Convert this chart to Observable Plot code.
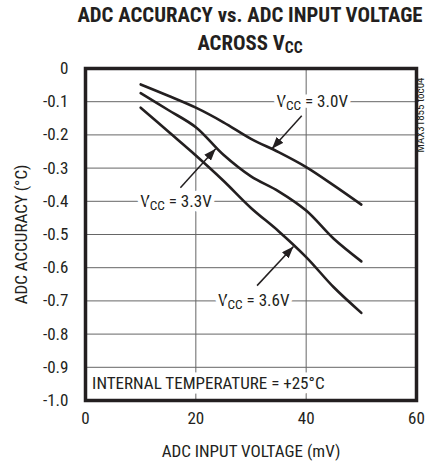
<!DOCTYPE html>
<html>
<head>
<meta charset="utf-8">
<script src="https://cdn.jsdelivr.net/npm/d3@7"></script>
<script src="https://cdn.jsdelivr.net/npm/@observablehq/plot@0.6"></script>
<style>
  html, body { margin: 0; padding: 0; background: #fff; }
  #wrap { width: 432px; height: 462px; position: relative; overflow: hidden; }
  #title {
    margin-left: 68px; width: 364px; height: 58px; box-sizing: border-box;
    padding-top: 1px; text-align: center; white-space: nowrap;
    font-family: Roboto, sans-serif; font-stretch: condensed;
    font-weight: bold; font-size: 20px; line-height: 28px; color: #231f20;
  }
  #title .sub { font-size: 0.75em; position: relative; top: 3px; }
  svg { display: block; }
</style>
</head>
<body>
<div id="wrap">
  <div id="title">ADC ACCURACY vs. ADC INPUT VOLTAGE<br>ACROSS V<span class="sub">CC</span></div>
  <div id="chart"></div>
</div>
<script>
// ---- data ----
const inputMv = [10, 15, 20, 25, 30, 35, 40, 45, 50];
const acc30 = [-0.048, -0.082, -0.118, -0.162, -0.212, -0.252, -0.297, -0.352, -0.41];
const acc33 = [-0.074, -0.125, -0.177, -0.26, -0.325, -0.37, -0.428, -0.513, -0.581];
const acc36 = [-0.118, -0.19, -0.262, -0.338, -0.42, -0.49, -0.568, -0.659, -0.736];
const seriesNames = ["VCC = 3.0V", "VCC = 3.3V", "VCC = 3.6V"];

const xTicks = [0, 20, 40, 60];
const yTicks = [0, -0.1, -0.2, -0.3, -0.4, -0.5, -0.6, -0.7, -0.8, -0.9, -1.0];
const xGrid = [20, 40];
const yGrid = [-0.1, -0.2, -0.3, -0.4, -0.5, -0.6, -0.7, -0.8, -0.9];

// label anchor points (data units) and arrows
const labelX = [41.1, 16.4, 30.5];
const labelY = [-0.1, -0.4, -0.7];
const arrowX1 = [39.2, 17.2, 31.1];
const arrowY1 = [-0.142, -0.359, -0.654];
const arrowX2 = [33.8, 23.6, 37.7];
const arrowY2 = [-0.242, -0.242, -0.536];

const noteText = "INTERNAL TEMPERATURE = +25°C";
const noteX = 1.2, noteY = -0.95;
const sideText = "MAX31855 toc04";
const titleLine1 = "ADC ACCURACY vs. ADC INPUT VOLTAGE";

// ---- font sizing to the reference's text widths ----
const ctx = document.createElement("canvas").getContext("2d");
function fit(text, weight, target) {
  ctx.font = `${weight} condensed 100px Roboto`;
  return 100 * target / ctx.measureText(text).width;
}
const titleSize = fit(titleLine1, "bold", 346);
const bodySize = fit(noteText, "normal", 233);
const sideSize = fit(sideText, "normal", 75);
document.getElementById("title").style.fontSize = titleSize + "px";

const font = "Roboto, sans-serif";

// ---- build tables ----
const allSeries = [acc30, acc33, acc36];
const curves = allSeries.flatMap((ys, i) => inputMv.map((x, j) => ({series: seriesNames[i], x, y: ys[j]})));
const labels = seriesNames.map((s, i) => ({text: s, x: labelX[i], y: labelY[i]}));
const arrows = seriesNames.map((s, i) => ({x1: arrowX1[i], y1: arrowY1[i], x2: arrowX2[i], y2: arrowY2[i]}));

const ink = "#231f20";

const svg = Plot.plot({
  width: 432,
  height: 404,
  marginTop: 10,
  marginBottom: 62,
  marginLeft: 85,
  marginRight: 16,
  style: {fontFamily: font, fontStretch: "condensed", fontSize: bodySize + "px", color: ink, background: "white"},
  x: {domain: [0, 60], ticks: xTicks, tickSize: 0, tickPadding: 11,
      label: "ADC INPUT VOLTAGE (mV)", labelAnchor: "center", labelOffset: 56, labelArrow: "none"},
  y: {domain: [-1, 0], ticks: yTicks, tickSize: 0, tickPadding: 17,
      tickFormat: d => d === 0 ? "0" : d.toFixed(1),
      label: "ADC ACCURACY (°C)", labelAnchor: "center", labelOffset: 71, labelArrow: "none"},
  marks: [
    Plot.ruleY(yGrid, {stroke: "#666", strokeWidth: 1}),
    Plot.ruleX(xGrid, {stroke: "#666", strokeWidth: 1}),
    Plot.line(curves, {x: "x", y: "y", z: "series", stroke: ink, strokeWidth: 2.6, curve: "catmull-rom"}),
    Plot.link(arrows, {x1: "x1", y1: "y1", x2: "x2", y2: "y2", stroke: ink, strokeWidth: 1.5}),
    Plot.text(labels, {x: "x", y: "y", text: "text", fill: ink, stroke: "white", strokeWidth: 9,
                       fontSize: bodySize, textAnchor: "middle"}),
    Plot.text([noteText], {x: noteX, y: noteY, text: d => d, fill: ink, stroke: "white", strokeWidth: 9,
                           fontSize: bodySize, textAnchor: "start"}),
    Plot.text([sideText], {frameAnchor: "top-right", text: d => d, rotate: -90, textAnchor: "end",
                           fontSize: sideSize, fill: ink, dy: 9}),
    Plot.frame({stroke: ink, strokeWidth: 3.5})
  ]
});

// filled arrowheads
const s = d3.select(svg);
const defs = s.insert("defs", ":first-child");
defs.append("marker").attr("id", "tri").attr("viewBox", "0 0 12 9")
  .attr("refX", 12).attr("refY", 4.5).attr("markerWidth", 12).attr("markerHeight", 9)
  .attr("markerUnits", "userSpaceOnUse").attr("orient", "auto")
  .append("path").attr("d", "M0,0L12,4.5L0,9Z").attr("fill", ink);
s.selectAll('g[aria-label="link"] path, g[aria-label="link"] line').attr("marker-end", "url(#tri)");

// subscript CC in VCC labels
s.selectAll("text").each(function() {
  const el = d3.select(this);
  const txt = el.text();
  if (!txt.startsWith("VCC")) return;
  const rest = txt.slice(3);
  el.text(null);
  el.append("tspan").text("V");
  el.append("tspan").attr("font-size", (bodySize * 0.78) + "px").attr("dy", "3").text("CC");
  el.append("tspan").attr("dy", "-3").text(rest);
});

document.getElementById("chart").appendChild(svg);
</script>
</body>
</html>
